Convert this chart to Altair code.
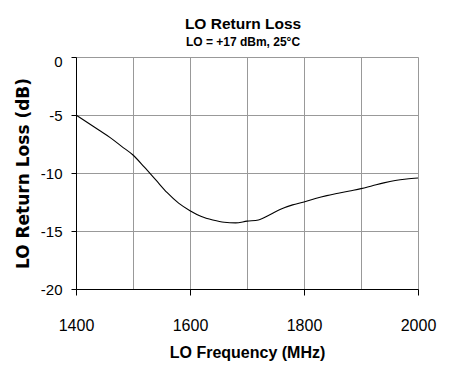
import altair as alt
import pandas as pd

# Data
freq_mhz = [1400, 1420, 1440, 1460, 1480, 1500, 1520, 1540, 1560, 1580,
            1600, 1620, 1640, 1660, 1680, 1700, 1720, 1740, 1760, 1780,
            1800, 1820, 1840, 1860, 1880, 1900, 1920, 1940, 1960, 1980, 2000]
return_loss_db = [-5.0, -5.65, -6.3, -6.95, -7.7, -8.45, -9.5, -10.6, -11.7, -12.6,
                  -13.25, -13.75, -14.05, -14.25, -14.3, -14.15, -14.05, -13.6, -13.1, -12.75,
                  -12.5, -12.2, -11.95, -11.75, -11.55, -11.35, -11.1, -10.85, -10.65, -10.52, -10.43]

x_grid_values = [1400, 1500, 1600, 1700, 1800, 1900, 2000]
y_tick_values = [0, -5, -10, -15, -20]

df = pd.DataFrame({"freq": freq_mhz, "rl": return_loss_db})

chart = alt.Chart(df).mark_line(
    color="black", strokeWidth=1.1, interpolate="monotone"
).encode(
    x=alt.X(
        "freq:Q",
        scale=alt.Scale(domain=[1400, 2000], nice=False, zero=False),
        axis=alt.Axis(
            values=x_grid_values,
            labelExpr="datum.value % 200 === 0 ? '' + datum.value : ''",
            tickOpacity={"condition": {"test": "datum.value % 200 === 0", "value": 1}, "value": 0},
            tickSize=6,
            tickColor="black",
            domainColor="black",
            gridColor="#999999",
            labelFont="Liberation Sans",
            labelFontSize=16,
            labelColor="black",
            labelPadding=22,
            labelFlush=False,
            labelOverlap=False,
            title="LO Frequency (MHz)",
            titleFont="Liberation Sans",
            titleFontSize=16,
            titleFontWeight="bold",
            titleColor="black",
            titlePadding=11,
        ),
    ),
    y=alt.Y(
        "rl:Q",
        scale=alt.Scale(domain=[-20, 0], nice=False, zero=False),
        axis=alt.Axis(
            values=y_tick_values,
            labelExpr="'' + datum.value",
            labelOffset={"condition": {"test": "datum.value === 0", "value": 4}, "value": 0},
            tickSize=5,
            tickColor="black",
            domainColor="black",
            gridColor="#999999",
            labelFont="Liberation Sans",
            labelFontSize=15,
            labelColor="black",
            labelPadding=9,
            labelOverlap=False,
            labelFlush=False,
            title="LO Return Loss (dB)",
            titleFont="DejaVu Sans",
            titleFontSize=17,
            titleFontWeight="bold",
            titleColor="black",
            titlePadding=8,
        ),
    ),
).properties(
    width=342,
    height=232,
    title=alt.TitleParams(
        text="LO Return Loss",
        subtitle="LO = +17 dBm, 25°C",
        anchor="middle",
        frame="group",
        dx=-4,
        font="Liberation Sans",
        fontSize=15.5,
        fontWeight="bold",
        color="black",
        subtitleFont="Liberation Sans",
        subtitleFontSize=12,
        subtitleFontWeight="bold",
        subtitleColor="black",
        subtitlePadding=5,
        offset=6,
    ),
    autosize=alt.AutoSizeParams(type="none"),
    padding={"left": 76, "top": 57, "right": 33, "bottom": 77},
).configure_view(
    stroke="black", strokeWidth=1
).configure(background="white")

chart.save("out.html", embed_options={"renderer": "svg", "actions": False})
